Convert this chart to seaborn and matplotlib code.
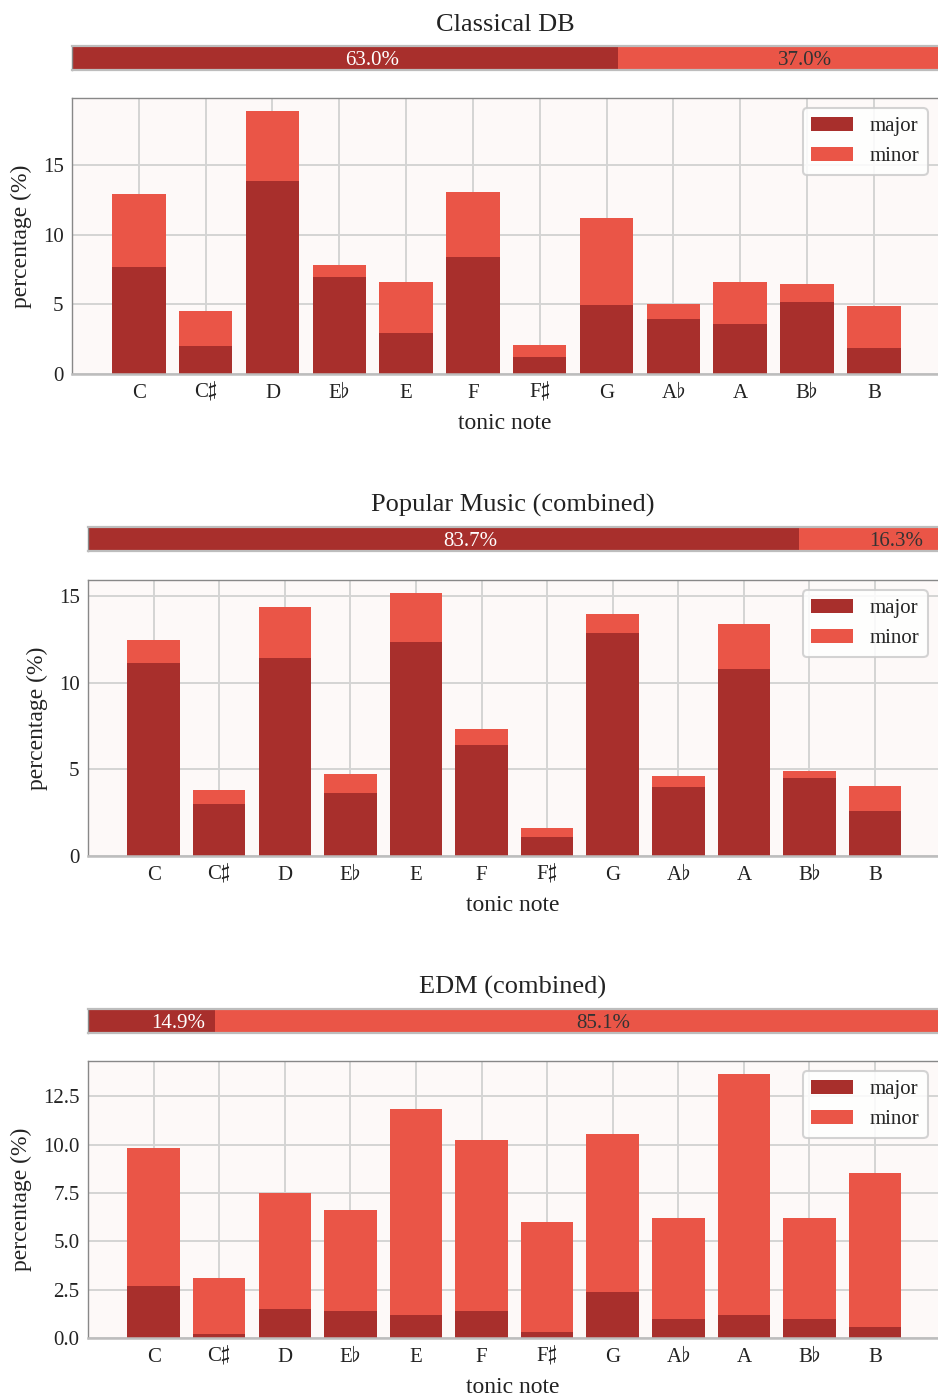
import numpy as np
import pandas as pd
import matplotlib
matplotlib.use("Agg")
import matplotlib.pyplot as plt
import seaborn as sns

notes = ["C", r"C$\sharp$", "D", r"E$\flat$", "E", "F", r"F$\sharp$", "G",
         r"A$\flat$", "A", r"B$\flat$", "B"]

titles = ["Classical DB", "Popular Music (combined)", "EDM (combined)"]

classical_total = [12.92, 4.52, 18.88, 7.82, 6.60, 13.07, 2.08, 11.20, 5.02, 6.60, 6.46, 4.88]
classical_major = [7.68, 2.01, 13.85, 6.96, 2.94, 8.40, 1.22, 4.95, 3.95, 3.59, 5.17, 1.87]

popular_total = [12.46, 3.81, 14.37, 4.73, 15.18, 7.33, 1.62, 13.96, 4.62, 13.39, 4.90, 4.04]
popular_major = [11.14, 3.00, 11.43, 3.64, 12.35, 6.40, 1.10, 12.87, 3.98, 10.79, 4.50, 2.60]

edm_total = [9.80, 3.11, 7.52, 6.64, 11.83, 10.22, 6.02, 10.53, 6.22, 13.64, 6.22, 8.51]
edm_major = [2.70, 0.20, 1.50, 1.40, 1.19, 1.40, 0.31, 2.39, 0.99, 1.19, 0.99, 0.57]

major_share = [63.0, 83.7, 14.9]
minor_share = [37.0, 16.3, 85.1]

totals = [classical_total, popular_total, edm_total]
majors = [classical_major, popular_major, edm_major]

MAJOR_C = "#a82f2c"
MINOR_C = "#ea5547"
FACE = "#fdf9f8"
GRID = "#d4d4d4"

sns.set_theme(style="whitegrid")
plt.rcParams["font.family"] = ["Liberation Serif", "DejaVu Serif"]
plt.rcParams["mathtext.fontset"] = "stix"

W, H = 938, 1396
fig = plt.figure(figsize=(W / 100, H / 100), dpi=100)


def fa(x0, y0, x1, y1):
    return [x0 / W, 1 - y1 / H, (x1 - x0) / W, (y1 - y0) / H]


layout = [
    dict(bar=(72, 46, 938, 70), main=(72, 98, 938, 374)),
    dict(bar=(88, 527, 938, 551), main=(88, 580, 938, 856)),
    dict(bar=(88, 1009, 938, 1033), main=(88, 1061, 938, 1338)),
]

for i in range(3):
    lay = layout[i]
    # share bar
    axb = fig.add_axes(fa(*lay["bar"]))
    mj = major_share[i] / 100.0
    mn = minor_share[i] / 100.0
    axb.barh([0], [mj], left=[0], height=1.0, color=MAJOR_C, edgecolor="none", linewidth=0)
    axb.barh([0], [mn], left=[mj], height=1.0, color=MINOR_C, edgecolor="none", linewidth=0)
    axb.set_xlim(0, 1)
    axb.set_ylim(-0.5, 0.5)
    axb.set_xticks([])
    axb.set_yticks([])
    axb.grid(False)
    axb.text(mj / 2, 0, f"{major_share[i]:.1f}%", ha="left", va="center_baseline",
             color="white", fontsize=15)
    axb.text(mj + mn / 2, 0, f"{minor_share[i]:.1f}%", ha="left", va="center_baseline",
             color="#333333", fontsize=15)
    for s in ["top", "bottom"]:
        axb.spines[s].set_color("#bdbdbd")
        axb.spines[s].set_linewidth(1.6)
    axb.spines["left"].set_color("#888888")
    axb.spines["left"].set_linewidth(1.0)
    axb.spines["right"].set_visible(False)
    axb.set_title(titles[i], fontsize=19, color="#222222", pad=11)

    # main stacked bar chart
    ax = fig.add_axes(fa(*lay["main"]))
    ax.set_facecolor(FACE)
    df = pd.DataFrame({"note": notes, "total": totals[i], "major": majors[i]})
    sns.barplot(data=df, x="note", y="total", color=MINOR_C, saturation=1,
                width=0.8, ax=ax, label="minor", zorder=2,
                edgecolor="none", linewidth=0)
    sns.barplot(data=df, x="note", y="major", color=MAJOR_C, saturation=1,
                width=0.8, ax=ax, label="major", zorder=2,
                edgecolor="none", linewidth=0)
    ax.set_xlim(-1, 11.96)
    ax.set_ylim(0, max(totals[i]) * 1.05)
    ax.grid(True, axis="both", color=GRID, linewidth=1.4, zorder=0)
    ax.set_axisbelow(True)
    ax.tick_params(axis="both", labelsize=15, colors="#222222", length=0)
    ax.tick_params(axis="y", pad=6)
    ax.tick_params(axis="x", pad=17)
    for lab in ax.get_xticklabels():
        lab.set_verticalalignment("baseline")
    ax.set_xlabel("tonic note", fontsize=17, color="#222222", labelpad=7)
    ax.set_ylabel("percentage (%)", fontsize=17, color="#222222", labelpad=8)
    for s in ["top", "left"]:
        ax.spines[s].set_color("#888888")
        ax.spines[s].set_linewidth(1.0)
    ax.spines["bottom"].set_color("#bdbdbd")
    ax.spines["bottom"].set_linewidth(1.8)
    ax.spines["right"].set_visible(False)
    handles, labels = ax.get_legend_handles_labels()
    order = [labels.index("major"), labels.index("minor")]
    leg = ax.legend([handles[k] for k in order], [labels[k] for k in order],
                    loc="upper right", fontsize=15, frameon=True, fancybox=True,
                    framealpha=0.85, facecolor="white", edgecolor="#cccccc")
    leg.get_frame().set_linewidth(1.5)

fig.savefig("out.png", dpi=100)
